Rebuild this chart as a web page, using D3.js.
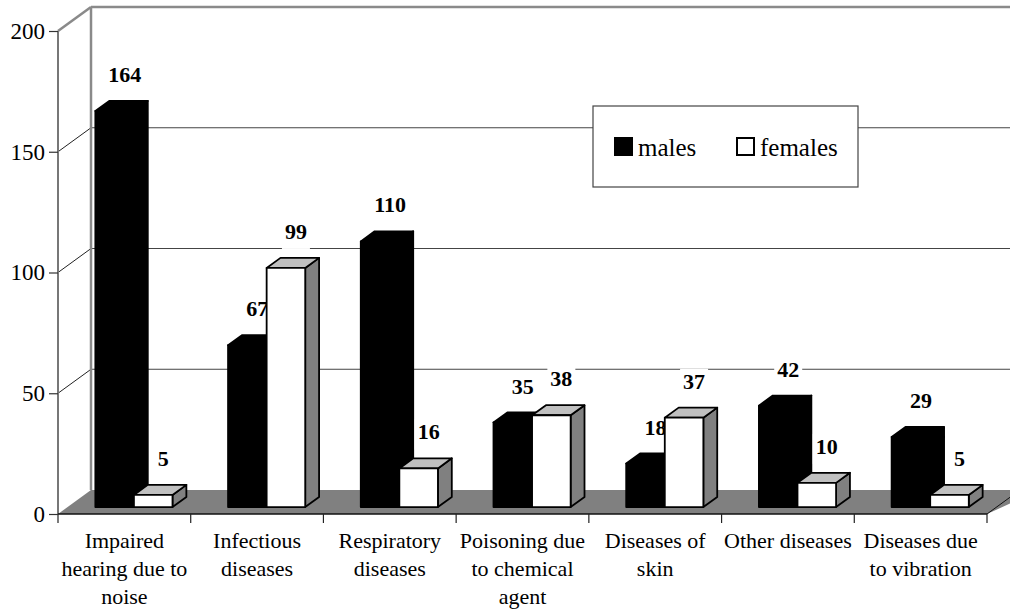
<!DOCTYPE html>
<html>
<head>
<meta charset="utf-8">
<script src="https://cdn.jsdelivr.net/npm/d3@7"></script>
<style>
  body { margin: 0; background: #fff; }
  svg, svg text { font-family: 'Times New Roman', 'Liberation Serif', 'DejaVu Serif', serif; }
</style>
</head>
<body>
<svg id="chart" width="1010" height="613"></svg>
<script>
// Occupational diseases by cause, males vs females
const categories = [
  "Impaired\nhearing due to\nnoise",
  "Infectious\ndiseases",
  "Respiratory\ndiseases",
  "Poisoning due\nto chemical\nagent",
  "Diseases of\nskin",
  "Other diseases",
  "Diseases due\nto vibration"
];
const seriesNames = ["males", "females"];
const males   = [164, 67, 110, 35, 18, 42, 29];
const females = [5, 99, 16, 38, 37, 10, 5];
const yTicks = [0, 50, 100, 150, 200];
const gridValues = [50, 100, 150];

const FONT = "'Times New Roman', 'Liberation Serif', 'DejaVu Serif', serif";
const svg = d3.select("#chart").attr("font-family", FONT);

// Front plane of the 3-D box and the depth vector of the floor
const plot = { left: 58, right: 987, top: 31, bottom: 514 };
const depth = { dx: 33, dy: -24 };
const farRight = 1040;
const barFront = 0.29, barBack = 0.71;   // bar depth as a fraction of the floor depth

const x = d3.scaleBand().domain(categories).range([plot.left, plot.right]);
const xs = d3.scaleBand().domain(seriesNames).range([0, x.bandwidth()]).paddingOuter(0.72);
const y = d3.scaleLinear().domain([0, 200]).range([plot.bottom, plot.top]);

const P = (px, py, f) => [px + f * depth.dx, py + f * depth.dy];
const poly = pts => pts.map(p => p.join(",")).join(" ");
const frameGray = "#8a8a8a";

// Walls
const yTop = y(200), yZero = y(0);
svg.append("polygon")
  .attr("points", poly([P(plot.left, yTop, 1), [farRight, yTop + depth.dy], [farRight, yZero + depth.dy], P(plot.left, yZero, 1)]))
  .attr("fill", "#fff");
svg.append("polygon")
  .attr("points", poly([[plot.left, yTop], P(plot.left, yTop, 1), P(plot.left, yZero, 1), [plot.left, yZero]]))
  .attr("fill", "#fff");

// Gridlines on side wall and back wall
gridValues.forEach(v => {
  const a = [plot.left, y(v)], b = P(plot.left, y(v), 1);
  svg.append("line").attr("x1", a[0]).attr("y1", a[1]).attr("x2", b[0]).attr("y2", b[1])
    .attr("stroke", "#222").attr("stroke-width", 1);
  svg.append("line").attr("x1", b[0]).attr("y1", b[1]).attr("x2", farRight).attr("y2", b[1])
    .attr("stroke", "#444").attr("stroke-width", 1);
});

// Floor
svg.append("polygon")
  .attr("points", poly([[plot.left, yZero], P(plot.left, yZero, 1), [farRight, yZero + depth.dy], [plot.right, yZero]]))
  .attr("fill", "#808080");

// Frame edges
const edge = (a, b, color, w) => svg.append("line")
  .attr("x1", a[0]).attr("y1", a[1]).attr("x2", b[0]).attr("y2", b[1])
  .attr("stroke", color).attr("stroke-width", w);
edge(P(plot.left, yTop, 1), [farRight, yTop + depth.dy], frameGray, 2.5);
edge(P(plot.left, yTop, 1), P(plot.left, yZero, 1), frameGray, 2.5);
edge([plot.left, yTop], P(plot.left, yTop, 1), frameGray, 2.5);
edge([plot.left, yTop], [plot.left, yZero], "#777", 2);
edge([plot.left, yZero], [plot.right, yZero], "#111", 1.5);
edge([plot.right, yZero], P(plot.right, yZero, 1), "#111", 1);

// Category ticks at band edges
const edges = categories.map(c => x(c)).concat([plot.right]);
svg.append("g").selectAll("line").data(edges).join("line")
  .attr("x1", d => d).attr("x2", d => d)
  .attr("y1", yZero).attr("y2", yZero + 9)
  .attr("stroke", "#222").attr("stroke-width", 1.2);

// Value axis
const yAxis = svg.append("g")
  .attr("transform", `translate(${plot.left},0)`)
  .call(d3.axisLeft(y).tickValues(yTicks).tickSize(9).tickPadding(4));
yAxis.attr("font-family", FONT).attr("font-size", 23);
yAxis.select(".domain").remove();
yAxis.selectAll(".tick line").attr("stroke", "#333").attr("stroke-width", 1.2);
yAxis.selectAll(".tick text").attr("fill", "#000");

// Category labels
const catLabels = svg.append("g").attr("font-size", 22).attr("text-anchor", "middle");
categories.forEach(c => {
  const cx = x(c) + x.bandwidth() / 2;
  const t = catLabels.append("text").attr("x", cx).attr("y", 548);
  c.split("\n").forEach((line, i) => {
    t.append("tspan").attr("x", cx).attr("dy", i === 0 ? 0 : 28).text(line);
  });
});

// 3-D bars
const values = { males, females };
const styles = {
  males:   { front: "#000", top: "#000", side: "#000" },
  females: { front: "#fff", top: "#c0c0c0", side: "#808080" }
};
const dDx = (barBack - barFront) * depth.dx, dDy = (barBack - barFront) * depth.dy;

function drawBars(series) {
  const g = svg.append("g");
  const st = styles[series];
  categories.forEach((c, i) => {
    const v = values[series][i];
    const [x0, yb] = P(x(c) + xs(series), y(0), barFront);
    const x1 = x0 + xs.bandwidth();
    const yt = P(0, y(v), barFront)[1];
    const common = sel => sel.attr("stroke", "#000").attr("stroke-width", 1.8).attr("stroke-linejoin", "round");
    g.append("polygon").call(common).attr("fill", st.side)
      .attr("points", poly([[x1, yt], [x1 + dDx, yt + dDy], [x1 + dDx, yb + dDy], [x1, yb]]));
    g.append("polygon").call(common).attr("fill", st.top)
      .attr("points", poly([[x0, yt], [x1, yt], [x1 + dDx, yt + dDy], [x0 + dDx, yt + dDy]]));
    g.append("rect").call(common).attr("fill", st.front)
      .attr("x", x0).attr("y", yt).attr("width", x1 - x0).attr("height", yb - yt);
  });
}

function drawLabels(series) {
  const g = svg.append("g");
  categories.forEach((c, i) => {
    const v = values[series][i];
    const [x0] = P(x(c) + xs(series), y(0), barFront);
    const cx = x0 + xs.bandwidth() / 2 + 10;
    const base = P(0, y(v), barFront)[1] - 29;
    const lg = g.append("g");
    const bg = lg.append("rect").attr("fill", "#fff");
    const t = lg.append("text")
      .attr("x", cx).attr("y", base)
      .attr("text-anchor", "middle")
      .attr("font-size", 22).attr("font-weight", "bold")
      .text(v);
    const bb = t.node().getBBox();
    bg.attr("x", bb.x - 3).attr("width", bb.width + 6)
      .attr("y", base - 20).attr("height", 30);
  });
}

drawBars("males");
drawLabels("males");
drawBars("females");
drawLabels("females");

// Legend
const legend = svg.append("g");
legend.append("rect")
  .attr("x", 593).attr("y", 106).attr("width", 265).attr("height", 81)
  .attr("fill", "#fff").attr("stroke", "#444").attr("stroke-width", 1.2);
const legendItems = [
  { name: seriesNames[0], sx: 614, tx: 638 },
  { name: seriesNames[1], sx: 736, tx: 760 }
];
legendItems.forEach(d => {
  const st = styles[d.name];
  legend.append("rect")
    .attr("x", d.sx + 1).attr("y", 138).attr("width", 17).attr("height", 17)
    .attr("fill", st.front).attr("stroke", "#000").attr("stroke-width", 2);
  legend.append("text").attr("x", d.tx).attr("y", 156)
    .attr("font-size", 25).text(d.name);
});
</script>
</body>
</html>
